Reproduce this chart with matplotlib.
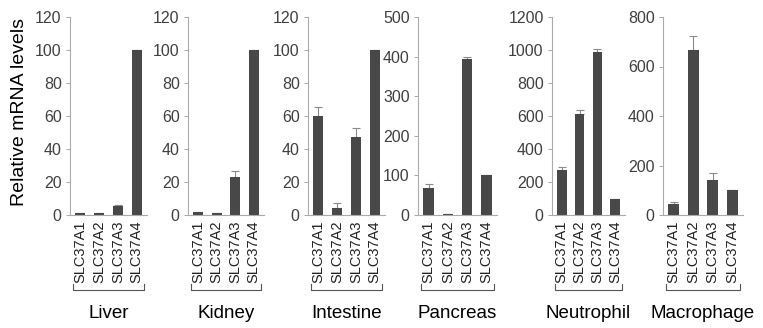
import numpy as np
import matplotlib.pyplot as plt
import matplotlib.transforms as mtransforms

plt.rcParams['font.family'] = ['Liberation Sans', 'DejaVu Sans']

genes = ['SLC37A1', 'SLC37A2', 'SLC37A3', 'SLC37A4']
tissues = ['Liver', 'Kidney', 'Intestine', 'Pancreas', 'Neutrophil', 'Macrophage']

liver = [1, 1.5, 5.5, 100]
liver_err = [0, 0, 0.5, 0]
kidney = [2, 1, 23, 100]
kidney_err = [0, 0, 3.5, 0]
intestine = [60, 4.5, 47, 100]
intestine_err = [5.5, 2.5, 5.5, 0]
pancreas = [68, 3, 393, 100]
pancreas_err = [10, 0, 5, 0]
neutrophil = [275, 610, 990, 100]
neutrophil_err = [15, 25, 15, 0]
macrophage = [45, 665, 140, 100]
macrophage_err = [8, 60, 30, 0]

values = [liver, kidney, intestine, pancreas, neutrophil, macrophage]
errors = [liver_err, kidney_err, intestine_err, pancreas_err, neutrophil_err, macrophage_err]
ymax = [120, 120, 120, 500, 1200, 800]
ystep = [20, 20, 20, 100, 200, 200]

# panel left/right edges in pixels
lefts = [70, 188, 308, 418, 552, 663]
rights = [147, 264, 385, 497, 625, 743]

W, H = 763, 328
fig = plt.figure(figsize=(W / 100, H / 100), dpi=100)
top_px, bot_px = 17, 215

x = np.arange(len(genes))
for i in range(len(tissues)):
    ax = fig.add_axes([lefts[i] / W, 1 - bot_px / H, (rights[i] - lefts[i]) / W, (bot_px - top_px) / H])
    ax.bar(x, values[i], width=0.55, color='#484848', zorder=2)
    ax.errorbar(x, values[i], yerr=[np.zeros(4), errors[i]], fmt='none', ecolor='#8a8a8a',
                elinewidth=0.8, capsize=3, capthick=0.8, zorder=1)
    ax.set_xlim(-0.55, 3.55)
    ax.set_ylim(0, ymax[i])
    ax.set_yticks(np.arange(0, ymax[i] + 1, ystep[i]))
    ax.set_xticks(x)
    ax.set_xticklabels(genes, rotation=90, fontsize=10.5, color='#222222')
    ax.tick_params(axis='x', length=0, pad=4)
    ax.tick_params(axis='y', length=3, width=0.6, color='#999999', labelsize=11.5,
                   labelcolor='#404040', pad=3)
    for s in ['top', 'right']:
        ax.spines[s].set_visible(False)
    for s in ['left', 'bottom']:
        ax.spines[s].set_color('#aaaaaa')
        ax.spines[s].set_linewidth(0.8)

    trans = mtransforms.blended_transform_factory(ax.transData, ax.transAxes)
    yb = -0.38
    ax.plot([-0.4, -0.4, 3.4, 3.4], [yb + 0.03, yb, yb, yb + 0.03], color='#555555',
            lw=0.8, transform=trans, clip_on=False)
    ax.text(1.5, -0.5, tissues[i], transform=trans, ha='center', va='center', fontsize=13.5)

fig.text(20 / W, 1 - 112 / H, 'Relative mRNA levels', rotation=90, ha='center', va='center',
         fontsize=14)

fig.savefig('out.png', dpi=100)
